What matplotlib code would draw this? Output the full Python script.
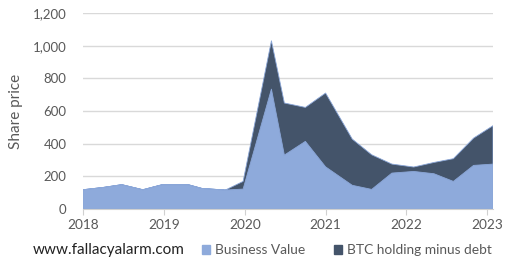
import numpy as np
import matplotlib.pyplot as plt
from matplotlib.patches import Patch
from matplotlib.ticker import FuncFormatter

plt.rcParams['font.family'] = ['Lato', 'DejaVu Sans']

# decimal year of each data point
dates = [2018.0, 2018.25, 2018.48, 2018.74, 2018.98, 2019.30, 2019.47, 2019.76,
         2019.98, 2020.33, 2020.49, 2020.75, 2021.0, 2021.33, 2021.57, 2021.82,
         2022.09, 2022.34, 2022.58, 2022.83, 2023.07]
business = [118, 132, 149, 118, 149, 149, 126, 116,
            122, 734, 330, 414, 258, 145, 120, 220,
            230, 216, 169, 267, 275]
btc = [0, 0, 0, 0, 0, 0, 0, 0,
       47, 296, 319, 208, 452, 283, 212, 55,
       27, 69, 139, 167, 235]
years = [2018, 2019, 2020, 2021, 2022, 2023]
yticks = [0, 200, 400, 600, 800, 1000, 1200]

c_blue = '#8eaadb'
c_dark = '#44546a'
grey = '#595959'

fig = plt.figure(figsize=(5.2, 2.72), dpi=100)
ax = fig.add_axes([83/520, 1-209/272, 410/520, 196/272])

ax.stackplot(dates, business, btc, colors=[c_blue, c_dark],
             edgecolors=['#8aa6d8', '#3a4a5e'], linewidth=0.6)

ax.set_xlim(2018, 2023.07)
ax.set_ylim(0, 1200)
ax.set_yticks(yticks)
ax.yaxis.set_major_formatter(FuncFormatter(lambda v, p: f'{int(v):,}'))
ax.set_xticks(years)
ax.grid(axis='y', color='#d9d9d9', linewidth=1)
ax.set_axisbelow(True)
for s in ['top', 'right', 'left']:
    ax.spines[s].set_visible(False)
ax.spines['bottom'].set_color('#d0d0d0')
ax.tick_params(axis='y', length=0, pad=12, labelsize=9.5, labelcolor=grey)
ax.tick_params(axis='x', length=4, color='#d0d0d0', pad=3, labelsize=9.8, labelcolor=grey)
ax.set_ylabel('Share price', fontsize=11, color=grey, labelpad=7)

fig.text(33/520, 1-250/272, 'www.fallacyalarm.com', fontsize=11, color='#222222',
         va='center', ha='left')
handles = [Patch(color=c_blue), Patch(color=c_dark)]
fig.legend(handles, ['Business Value', 'BTC holding minus debt'],
           loc='center left', bbox_to_anchor=(202/520, 1-250/272), ncol=2,
           frameon=False, fontsize=9.9, labelcolor=grey, handlelength=0.6,
           handleheight=0.6, handletextpad=0.35, columnspacing=2.1,
           borderaxespad=0, borderpad=0)

fig.savefig('out.png', dpi=100)
